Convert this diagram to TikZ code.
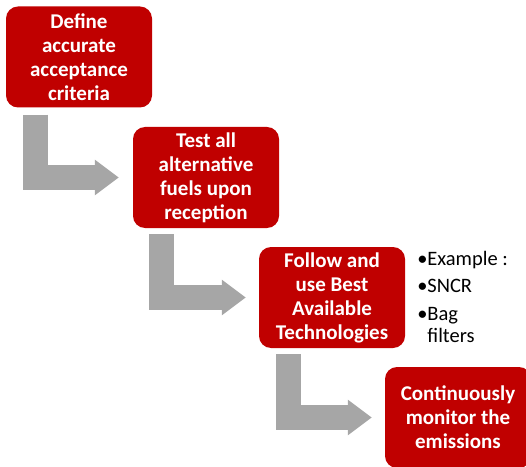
\documentclass[tikz,border=0pt]{standalone}
\usepackage{fontspec}
\setmainfont{Carlito}
\usetikzlibrary{arrows.meta,positioning}
\definecolor{boxred}{HTML}{C00000}
\definecolor{flowgrey}{HTML}{A6A6A6}

\begin{document}
\begin{tikzpicture}[
    x=1pt, y=1pt,
    stepbox/.style={rectangle, rounded corners=12pt, fill=boxred, text=white,
        minimum width=146pt, minimum height=101pt, inner sep=2pt, align=center,
        font=\fontsize{21}{24}\selectfont\bfseries},
    flow/.style={draw=flowgrey, line width=25pt, -{Triangle[width=34pt,length=24pt]}},
    notes/.style={align=left, inner sep=0pt, anchor=north west,
        font=\fontsize{20.5}{22.5}\selectfont}
]
\clip (0,0) rectangle (526,466);
\useasboundingbox (0,0) rectangle (526,466);

\node[stepbox] (define) at (79,409) {Define\\accurate\\acceptance\\criteria};
\node[stepbox] (test) at (206,288.5) {Test all\\alternative\\fuels upon\\reception};
\node[stepbox] (bat) at (332,168.5) {Follow and\\use Best\\Available\\Technologies};
\node[stepbox] (monitor) at (458,48.5) {Continuously\\monitor the\\emissions};

% examples next to the BAT step
\node[notes, right=12pt of bat.north east, anchor=north west, yshift=-4pt] (examples)
    {\makebox[10pt][l]{•}Example :\\[5pt]
     \makebox[10pt][l]{•}SNCR\\[5pt]
     \makebox[10pt][l]{•}Bag\\
     \makebox[10pt][l]{}filters};

\draw[flow] ([xshift=30pt,yshift=-7pt]define.south west) |- ([xshift=-14pt]test.west);
\draw[flow] ([xshift=29pt,yshift=-6pt]test.south west) |- ([xshift=-13pt]bat.west);
\draw[flow] ([xshift=30pt,yshift=-6pt]bat.south west) |- ([xshift=-13pt]monitor.west);

\end{tikzpicture}
\end{document}
